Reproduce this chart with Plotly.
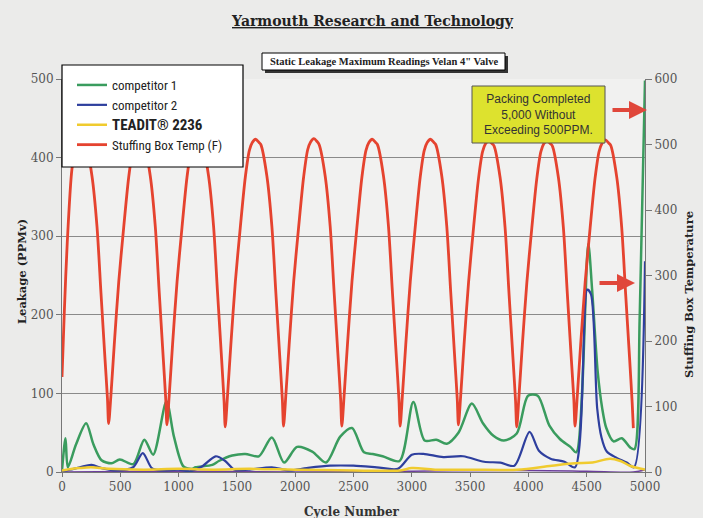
import plotly.graph_objects as go

# ---------------- data ----------------
cycle_ticks = [0, 500, 1000, 1500, 2000, 2500, 3000, 3500, 4000, 4500, 5000]

comp1_x = [0, 30, 50, 120, 207, 270, 339, 424, 496, 612, 706, 782, 896, 960, 1042, 1116,
           1146, 1290, 1345, 1460, 1572, 1688, 1800, 1905, 2016, 2146, 2264, 2386, 2487,
           2590, 2665, 2750, 2895, 3013, 3110, 3210, 3300, 3400, 3515, 3610, 3700, 3790,
           3900, 3997, 4080, 4180, 4270, 4360, 4410, 4513, 4546, 4594, 4633, 4668, 4730,
           4801, 4874, 4909, 4955, 5000]
comp1_y = [2, 43, 6, 35, 62, 35, 15, 11, 16, 10, 41, 22, 90, 45, 7, 4,
           6, 9, 14, 21, 23, 20, 44, 12, 32, 26, 12, 45, 56,
           25, 23, 20, 14, 89, 40, 41, 36, 50, 87, 62, 46, 40,
           49, 97, 97, 59, 42, 32, 25, 290, 233, 128, 81, 56, 39,
           43, 31, 29, 200, 498]

comp2_x = [0, 100, 253, 340, 470, 610, 693, 770, 850, 1000, 1100, 1200, 1318, 1400, 1480,
           1600, 1800, 1950, 2100, 2300, 2500, 2700, 2880, 3000, 3100, 3270, 3440, 3620,
           3760, 3880, 4010, 4090, 4190, 4310, 4400, 4505, 4537, 4590, 4627, 4672, 4757,
           4843, 4905, 5000]
comp2_y = [1, 4, 9, 5, 2, 6, 24, 5, 2, 3, 1, 7, 20, 14, 3,
           3, 6, 2, 5, 8, 8, 6, 4, 22, 23, 19, 20, 13,
           12, 8, 51, 27, 17, 13, 6, 232, 226, 81, 44, 26, 18,
           12, 6, 268]

teadit_x = [0, 150, 250, 400, 700, 1000, 1300, 1600, 2000, 2500, 2900, 3000, 3200, 3500,
            3900, 4200, 4400, 4550, 4700, 4790, 4870, 5000]
teadit_y = [2, 5, 6, 4, 3, 4, 3, 4, 3, 2, 2, 5, 3, 3,
            3, 8, 11, 12, 17, 14, 8, 3]

other_x = [0, 1000, 2000, 3000, 4000, 4500, 4900, 5000]
other_y = [0, 1, 0, 1, 2, 1, 0, 3]

temp_x = [0, 20, 45, 85, 120, 160, 190, 205, 257, 300, 334, 369, 390, 400,
          420, 448, 487, 529, 572, 607, 632, 660, 690, 705, 757, 800, 834, 869, 890, 900,
          920, 948, 987, 1029, 1072, 1107, 1132, 1160, 1190, 1205, 1257, 1300, 1334, 1369, 1390, 1400,
          1420, 1448, 1487, 1529, 1572, 1607, 1632, 1660, 1690, 1705, 1757, 1800, 1834, 1869, 1890, 1900,
          1920, 1948, 1987, 2029, 2072, 2107, 2132, 2160, 2190, 2205, 2257, 2300, 2334, 2369, 2390, 2400,
          2420, 2448, 2487, 2529, 2572, 2607, 2632, 2660, 2690, 2705, 2757, 2800, 2834, 2869, 2890, 2900,
          2920, 2948, 2987, 3029, 3072, 3107, 3132, 3160, 3190, 3205, 3257, 3300, 3334, 3369, 3390, 3400,
          3420, 3448, 3487, 3529, 3572, 3607, 3632, 3660, 3690, 3705, 3757, 3800, 3834, 3869, 3890, 3900,
          3920, 3948, 3987, 4029, 4072, 4107, 4132, 4160, 4190, 4205, 4257, 4300, 4334, 4369, 4390, 4400,
          4420, 4448, 4487, 4529, 4572, 4607, 4632, 4660, 4690, 4705, 4757, 4800, 4834, 4869, 4890, 4900]
temp_y = [145, 245, 350, 462, 498, 508, 503, 500, 452, 375, 274, 172, 112, 74,
          118, 194, 291, 373, 450, 491, 503, 508, 503, 500, 452, 375, 274, 172, 110, 72,
          118, 194, 291, 373, 450, 491, 503, 508, 503, 500, 452, 375, 274, 172, 108, 69,
          118, 194, 291, 373, 450, 491, 503, 508, 503, 500, 452, 375, 274, 172, 110, 70,
          118, 194, 291, 373, 450, 492, 504, 509, 504, 500, 452, 375, 274, 172, 110, 70,
          118, 194, 291, 373, 450, 491, 503, 508, 503, 500, 452, 375, 274, 172, 110, 70,
          118, 194, 291, 373, 450, 491, 503, 508, 503, 500, 452, 375, 274, 172, 111, 72,
          118, 194, 290, 372, 448, 489, 501, 506, 501, 498, 450, 373, 272, 170, 108, 69,
          118, 194, 290, 372, 448, 489, 501, 506, 501, 498, 450, 373, 272, 170, 110, 70,
          118, 194, 290, 372, 449, 490, 502, 507, 502, 499, 451, 374, 272, 170, 106, 67]

leak_ticks = [0, 100, 200, 300, 400, 500]
temp_ticks = [0, 100, 200, 300, 400, 500, 600]

# ---------------- layout helpers ----------------
L, R, T, B = 62, 58, 79, 46
W, H = 703, 518
PW, PH = W - L - R, H - T - B


def fx(px):
    return (px - L) / PW


def fy(py):
    return (H - B - py) / PH


serif = "DejaVu Serif, Liberation Serif, serif"
sans_c = "Liberation Sans Narrow, Roboto Condensed, Roboto, sans-serif"

fig = go.Figure()
fig.add_trace(go.Scatter(x=other_x, y=other_y, mode="lines", showlegend=False,
                         line=dict(color="#6c3f9c", width=1.5, shape="spline"), hoverinfo="skip"))
fig.add_trace(go.Scatter(x=comp1_x, y=comp1_y, mode="lines", name="competitor 1",
                         line=dict(color="#3a9c5e", width=2.5, shape="spline", smoothing=0.8)))
fig.add_trace(go.Scatter(x=comp2_x, y=comp2_y, mode="lines", name="competitor 2",
                         line=dict(color="#2e3f9e", width=2.2, shape="spline", smoothing=0.8)))
fig.add_trace(go.Scatter(x=teadit_x, y=teadit_y, mode="lines",
                         name="<b><span style='font-size:15px'>TEADIT® 2236</span></b>",
                         line=dict(color="#f0cb2e", width=2.5, shape="spline")))
fig.add_trace(go.Scatter(x=temp_x, y=temp_y, mode="lines", name="Stuffing Box Temp (F)",
                         yaxis="y2", line=dict(color="#e5432f", width=2.8, shape="spline", smoothing=0.8)))

shapes = [
    dict(type="rect", xref="paper", yref="paper", x0=fx(62), x1=fx(243), y0=fy(167), y1=fy(65),
         fillcolor="white", line=dict(color="black", width=1.2), layer="above"),
    dict(type="rect", xref="paper", yref="paper", x0=fx(265), x1=fx(508), y0=fy(73), y1=fy(56),
         fillcolor="#333333", line=dict(width=0), layer="above"),
    dict(type="rect", xref="paper", yref="paper", x0=fx(262), x1=fx(505), y0=fy(70), y1=fy(53),
         fillcolor="white", line=dict(color="black", width=1), layer="above"),
    dict(type="rect", xref="paper", yref="paper", x0=fx(472), x1=fx(605), y0=fy(143), y1=fy(86),
         fillcolor="#dde22e", line=dict(color="#555555", width=1), layer="above"),
]


def label(text, px, py, font, angle=0):
    return dict(text=text, xref="paper", yref="paper", x=fx(px), y=fy(py), xanchor="center",
                yanchor="middle", textangle=angle, showarrow=False, font=font)


annotations = [
    label("<b><u>Yarmouth Research and Technology</u></b>", 372, 21,
          dict(family=serif, size=14, color="#222")),
    label("<b>Static Leakage Maximum Readings Velan 4\" Valve</b>", 383.5, 61.5,
          dict(family="Liberation Serif, serif", size=10.5, color="#222")),
    label("Packing Completed<br>5,000 Without<br>Exceeding 500PPM.", 538.5, 114.5,
          dict(family="Liberation Sans, Arial, sans-serif", size=12, color="#333")),
    label("<b>Leakage (PPMv)</b>", 22, 272, dict(family=serif, size=11.5, color="#222"), -90),
    label("<b>Stuffing Box Temperature</b>", 689, 295, dict(family=serif, size=11.5, color="#222"), -90),
    label("<b>Cycle Number</b>", 352, 512, dict(family=serif, size=12, color="#333")),
    dict(text="", xref="paper", yref="paper", x=fx(647), y=fy(110), ax=-36, ay=0,
         showarrow=True, arrowhead=2, arrowsize=0.9, arrowwidth=4, arrowcolor="#e0473b"),
    dict(text="", xref="paper", yref="paper", x=fx(635), y=fy(283), ax=-37, ay=0,
         showarrow=True, arrowhead=2, arrowsize=0.9, arrowwidth=4, arrowcolor="#e0473b"),
]

fig.update_layout(
    width=W, height=H,
    margin=dict(l=L, r=R, t=T, b=B),
    paper_bgcolor="#ebebea",
    plot_bgcolor="#f1f1f0",
    showlegend=True,
    legend=dict(x=fx(72), y=fy(70), xanchor="left", yanchor="top",
                bgcolor="rgba(0,0,0,0)", borderwidth=0,
                font=dict(family=sans_c, size=13, color="#222"), tracegroupgap=0),
    shapes=shapes,
    annotations=annotations,
    xaxis=dict(range=[0, 5000], tickvals=cycle_ticks, ticktext=[str(v) for v in cycle_ticks],
               showgrid=False, zeroline=False, showline=True, linecolor="#777", linewidth=1,
               ticks="outside", ticklen=4, tickcolor="#777",
               tickfont=dict(family=serif, size=12, color="#555")),
    yaxis=dict(range=[0, 500], tickvals=leak_ticks, showgrid=True, gridcolor="#8a8a8a", gridwidth=1,
               zeroline=False, showline=True, linecolor="#777", linewidth=1,
               ticks="outside", ticklen=5, tickcolor="#777",
               tickfont=dict(family=serif, size=12, color="#555")),
    yaxis2=dict(range=[0, 600], tickvals=temp_ticks, overlaying="y", side="right", showgrid=False,
                zeroline=False, showline=True, linecolor="#777", linewidth=1,
                ticks="outside", ticklen=6, tickcolor="#777",
                tickfont=dict(family=serif, size=12, color="#555")),
)

fig.write_html(
    "out.html",
    config={"displayModeBar": False},
    post_script="document.body.style.margin='0';document.body.style.overflow='hidden';"
                "document.body.style.background='#ebebea';",
)
